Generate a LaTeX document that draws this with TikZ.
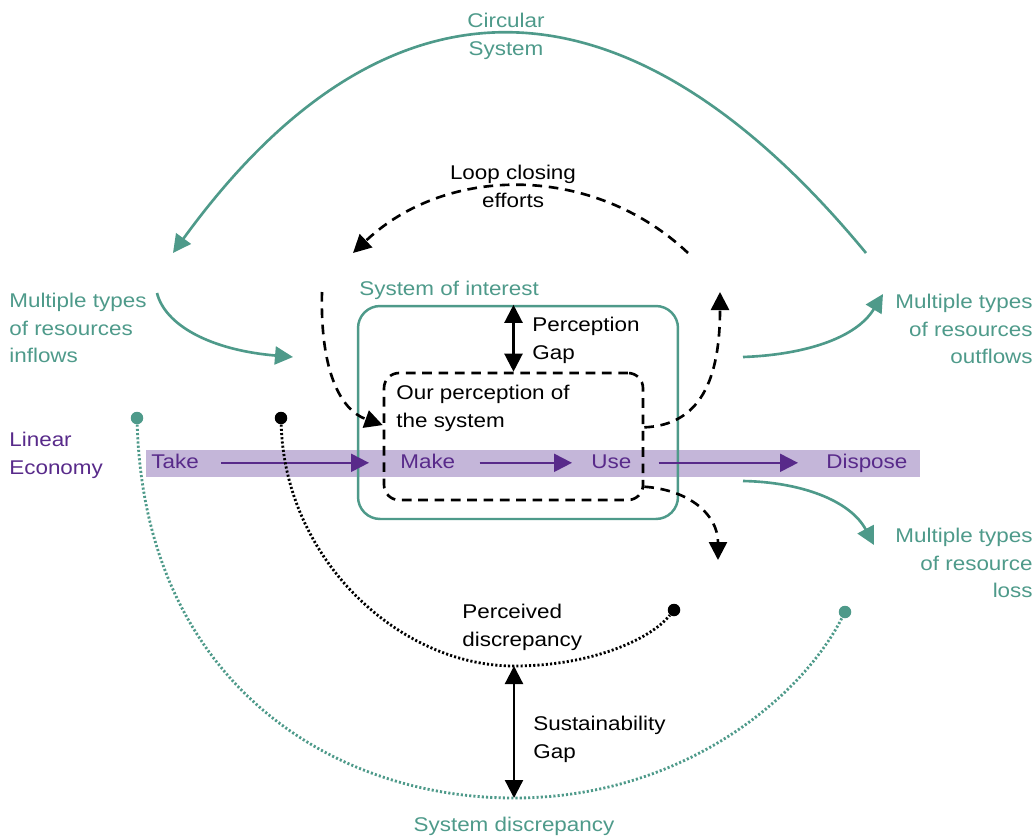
\documentclass[tikz,border=0pt]{standalone}
\usepackage{fontspec}
\setmainfont[FakeStretch=1.13]{Liberation Sans}
\usetikzlibrary{arrows.meta}
\definecolor{ceteal}{RGB}{78,154,138}
\definecolor{lepurple}{RGB}{88,42,138}
\definecolor{leband}{RGB}{196,182,217}
\tikzset{
    >={Triangle[length=0.36cm,width=0.36cm]},
    txt/.style = {
        inner sep=0pt,
        align=left,
        font=\fontsize{11.3pt}{15.7pt}\selectfont
    },
    tealtxt/.style = {txt, text=ceteal},
    purptxt/.style = {txt, text=lepurple},
    bandtxt/.style = {
        purptxt,
        text height=8.2pt,
        text depth=2.3pt,
        anchor=base west
    },
    band/.style = {
        fill=leband,
        inner sep=0pt,
        minimum width=15.48cm,
        minimum height=0.54cm
    },
    interest/.style = {
        draw=ceteal,
        line width=1.4pt,
        rounded corners=0.44cm,
        minimum width=6.4cm,
        minimum height=4.26cm
    },
    perceived/.style = {
        draw,
        line width=1.5pt,
        dash pattern=on 5.5pt off 3.8pt,
        rounded corners=0.3cm,
        minimum width=5.18cm,
        minimum height=2.54cm
    },
    flow/.style = {draw=lepurple, line width=1.2pt, ->},
    tealflow/.style = {draw=ceteal, line width=1.5pt, ->},
    effort/.style = {draw, line width=1.5pt, dash pattern=on 5.5pt off 3.8pt, ->},
    gap/.style = {draw, line width=1.3pt, <->},
    blackdot/.style = {circle, fill, inner sep=0pt, minimum size=0.25cm},
    tealdot/.style = {blackdot, fill=ceteal},
    discrep/.style = {draw, line width=1.6pt, dash pattern=on 1.2pt off 1.2pt},
    tealdiscrep/.style = {discrep, draw=ceteal},
}

\begin{document}
\begin{tikzpicture}[x=0.02cm, y=-0.02cm]
            \useasboundingbox (0,0) rectangle (1035,839);

            \node[band] (band) at (533,463.5) {};
            \node[interest] (soi) at (518,412.5) {};
            \node[perceived] (percep) at (513.5,436.5) {};

            \node[bandtxt] (take) at (151,468) {Take};
            \node[bandtxt] (make) at (400,468) {Make};
            \node[bandtxt] (use) at (591,468) {Use};
            \node[bandtxt] (dispose) at (826,468) {Dispose};

            \node[purptxt, anchor=north west] (linear) at (9,432) {Linear\\Economy};
            \node[tealtxt, anchor=north west] (inflows) at (9,293) {Multiple types\\of resources\\inflows};
            \node[tealtxt, anchor=north east, align=right] (outflows) at (1033,294) {Multiple types\\of resources\\outflows};
            \node[tealtxt, anchor=north east, align=right] (losses) at (1033,528) {Multiple types\\of resource\\loss};
            \node[tealtxt, anchor=north, align=center] (circular) at (506,13) {Circular\\System};
            \node[tealtxt, anchor=north west] (soilbl) at (359,281) {System of interest};
            \node[txt, anchor=north west] (pgaplbl) at (532,317) {Perception\\Gap};
            \node[txt, anchor=north west] (ourlbl) at (396,385) {Our perception of\\the system};
            \node[txt, anchor=north, align=center] (looplbl) at (513,165) {Loop closing\\efforts};
            \node[txt, anchor=north west] (perclbl) at (462,604) {Perceived\\discrepancy};
            \node[txt, anchor=north west] (sustlbl) at (533,716) {Sustainability\\Gap};
            \node[tealtxt, anchor=north] (sdlbl) at (514,817) {System discrepancy};

            \coordinate (circR) at (866,253);
            \coordinate (circL) at (173,253);
            \coordinate (loopR) at (688,253);
            \coordinate (loopL) at (353,253);
            \coordinate (inA) at (157,293);
            \coordinate (inB) at (293,357);
            \coordinate (outA) at (743,357);
            \coordinate (outB) at (883,294);
            \coordinate (lossA) at (743,481);
            \coordinate (lossB) at (874,545);
            \coordinate (backA) at (322,292);
            \coordinate (fwdB) at (720,292);
            \coordinate (leakB) at (718,560);
            \coordinate (pdbot) at (514,666);
            \coordinate (sdbot) at (514,798);

            \node[blackdot] (pdL) at (281,418) {};
            \node[blackdot] (pdR) at (674,610) {};
            \node[tealdot] (sdL) at (137,418) {};
            \node[tealdot] (sdR) at (845,612) {};

            \path[flow, shorten <=0.44cm, shorten >=0.62cm] (take) -- (make);
            \path[flow, shorten <=0.48cm, shorten >=0.38cm] (make) -- (use);
            \path[flow, shorten <=0.54cm, shorten >=0.56cm] (use) -- (dispose);

            \path[gap] (percep.north) -- (percep.north |- soi.north);
            \path[gap] (pdbot) -- (sdbot);

            \path[tealflow] (circR) .. controls (625,-39) and (385,-39) .. (circL);
            \path[tealflow] (inA) .. controls (165,325) and (210,350) .. (inB);
            \path[tealflow] (outA) .. controls (800,355) and (855,340) .. (outB);
            \path[tealflow] (lossA) .. controls (800,482) and (850,500) .. (lossB);

            \path[effort] (loopR) .. controls (594,164) and (447,164) .. (loopL);
            \path[effort] (backA) .. controls (320,370) and (340,410) .. (percep.175);
            \path[effort] (percep.4) .. controls (700,425) and (720,380) .. (fwdB);
            \path[effort] (percep.-21) .. controls (690,490) and (718,515) .. (leakB);

            \path[discrep] (pdL) .. controls (285,560) and (400,666) .. (pdbot) .. controls (590,666) and (650,640) .. (pdR);
            \path[tealdiscrep] (sdL) .. controls (145,680) and (330,798) .. (sdbot) .. controls (680,798) and (800,700) .. (sdR);

        \end{tikzpicture}
\end{document}
